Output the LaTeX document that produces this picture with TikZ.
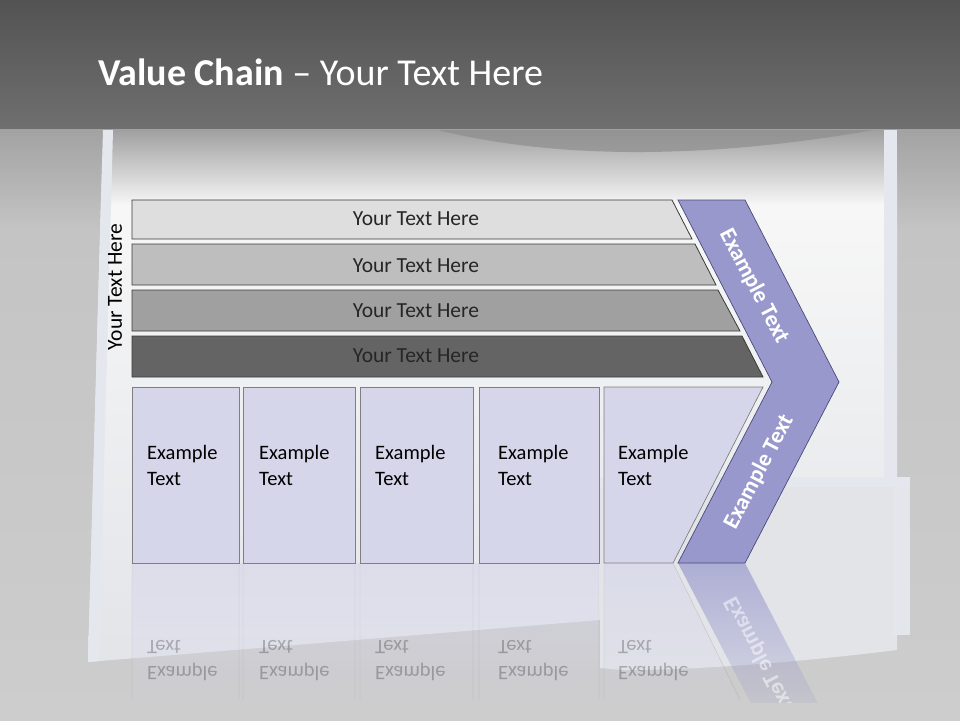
\documentclass[tikz,border=0pt]{standalone}
\usepackage{fontspec}
\setmainfont{Carlito}
\usetikzlibrary{fadings}

\definecolor{bandtop}{HTML}{535353}
\definecolor{bandbot}{HTML}{6F6F6F}
\definecolor{floorA}{HTML}{A2A2A2}
\definecolor{floorB}{HTML}{C4C4C4}
\definecolor{floorC}{HTML}{CDCDCD}
\definecolor{boardtop}{HTML}{9E9E9E}
\definecolor{boardmid}{HTML}{F7F7F7}
\definecolor{boardlow}{HTML}{E2E4E8}
\definecolor{swoosh}{HTML}{929292}
\definecolor{edgeblue}{HTML}{E4E8EE}
\definecolor{barA}{HTML}{DEDEDE}
\definecolor{barB}{HTML}{BEBEBE}
\definecolor{barC}{HTML}{A0A0A0}
\definecolor{barD}{HTML}{646464}
\definecolor{barline}{HTML}{3A3A3A}
\definecolor{bartext}{HTML}{262626}
\definecolor{boxfill}{HTML}{D6D6EA}
\definecolor{boxline}{HTML}{7F7F7F}
\definecolor{chevfill}{HTML}{9898CC}
\definecolor{chevline}{HTML}{4A4A7A}

\begin{document}
\begin{tikzpicture}[x=1pt,y=-1pt,
  bar/.style={draw=barline,line width=0.8pt},
  barlabel/.style={text=bartext,font=\fontsize{21.5}{24}\selectfont},
  box/.style={draw=boxline,fill=boxfill,line width=0.7pt},
  boxlabel/.style={anchor=west,align=left,inner sep=0pt,font=\fontsize{20.5}{26}\selectfont},
  armlabel/.style={text=white,font=\bfseries\fontsize{23}{25}\selectfont},
  mirror/.style={yscale=-1,opacity=0.25}]
  \useasboundingbox (0,0) rectangle (960,720);

  % backdrop
  \shade[top color=floorA,bottom color=floorB] (0,128) rectangle (960,230);
  \shade[top color=floorB,bottom color=floorC] (0,230) rectangle (960,720);
  \begin{scope}
    \clip (103,130) -- (897,130) -- (897,482) -- (600,482) -- (600,620) -- (88,662) -- cycle;
    \shade[top color=boardtop,bottom color=boardmid] (80,128) rectangle (900,205);
    \shade[top color=boardmid,bottom color=boardlow] (80,205) rectangle (900,670);
    \shade[top color=swoosh,bottom color=boardtop] (430,128) .. controls (560,162) and (720,158) .. (885,128) -- cycle;
  \end{scope}
  \fill[edgeblue] (103,130) -- (113,130) -- (99,661) -- (88,662) -- cycle;
  \fill[edgeblue] (884,130) -- (897,130) -- (897,482) -- (884,482) -- cycle;
  \fill[boardlow] (600,482) -- (897,482) -- (897,650) .. controls (800,662) and (700,670) .. (623,670) -- (600,668) -- cycle;
  \fill[edgeblue] (600,477) rectangle (910,487);
  \fill[edgeblue!70!boardlow] (893,487) rectangle (910,635);
  \shade[top color=bandtop,bottom color=bandbot] (0,0) rectangle (960,128);

  \node[anchor=base west,inner sep=0pt,text=white,font=\fontsize{38}{42}\selectfont] (title) at (98,85)
    {\textbf{Value Chain} -- Your Text Here};

  % bars
  \draw[bar,fill=barA] (132,200) -- (672,200) -- (692,239) -- (132,239) -- cycle;
  \draw[bar,fill=barB] (132,244) -- (695,244) -- (716,285) -- (132,285) -- cycle;
  \draw[bar,fill=barC] (132,290) -- (718,290) -- (740,331) -- (132,331) -- cycle;
  \draw[bar,fill=barD] (132,336) -- (742,336) -- (763,377) -- (132,377) -- cycle;
  \node[barlabel] (bar1) at (416,219) {Your Text Here};
  \node[barlabel] (bar2) at (416,266) {Your Text Here};
  \node[barlabel] (bar3) at (416,311) {Your Text Here};
  \node[barlabel] (bar4) at (416,356) {Your Text Here};
  \node[rotate=90,font=\fontsize{21.5}{24}\selectfont] (side) at (115,287) {Your Text Here};

  % reflections
  \begin{scope}
    \clip (0,563) rectangle (960,702);
    \fill[boxfill,path fading=south,opacity=0.6] (132,563) rectangle (599,720);
    \fill[boxfill,path fading=south,opacity=0.6] (604,563) -- (673,563) -- (750,720) -- (604,720) -- cycle;
    \fill[chevfill,path fading=south,opacity=0.7] (678,563) -- (745,563) -- (839,744) -- (772,744) -- cycle;
    \draw[boxline,opacity=0.3] (132,563) -- (132,700) (239,563) -- (239,700) (243,563) -- (243,700)
      (355,563) -- (355,700) (360,563) -- (360,700) (473,563) -- (473,700) (479,563) -- (479,700)
      (599,563) -- (599,700) (604,563) -- (604,700) (673,563) -- (740,700);
    \node[boxlabel,mirror] (r1) at (147,661) {Example\\Text};
    \node[boxlabel,mirror] (r2) at (259,661) {Example\\Text};
    \node[boxlabel,mirror] (r3) at (375,661) {Example\\Text};
    \node[boxlabel,mirror] (r4) at (498,661) {Example\\Text};
    \node[boxlabel,mirror] (r5) at (618,661) {Example\\Text};
    \node[armlabel,rotate=-62.4,yscale=-1,opacity=0.5] (r6) at (759,654) {Example Text};
  \end{scope}

  % activity boxes
  \draw[box] (132,387) rectangle (239,563);
  \draw[box] (243,387) rectangle (355,563);
  \draw[box] (360,387) rectangle (473,563);
  \draw[box] (479,387) rectangle (599,563);
  \draw[box] (604,387) -- (763,387) -- (673,563) -- (604,563) -- cycle;
  \node[boxlabel] (act1) at (147,465) {Example\\Text};
  \node[boxlabel] (act2) at (259,465) {Example\\Text};
  \node[boxlabel] (act3) at (375,465) {Example\\Text};
  \node[boxlabel] (act4) at (498,465) {Example\\Text};
  \node[boxlabel] (act5) at (618,465) {Example\\Text};

  % margin chevron
  \draw[fill=chevfill,draw=chevline,line width=0.7pt]
    (678,200) -- (745,200) -- (839,382) -- (745,563) -- (678,563) -- (772,382) -- cycle;
  \node[armlabel,rotate=-62.4] (arm1) at (754,286) {Example Text};
  \node[armlabel,rotate=62.4] (arm2) at (759,472) {Example Text};
\end{tikzpicture}
\end{document}
